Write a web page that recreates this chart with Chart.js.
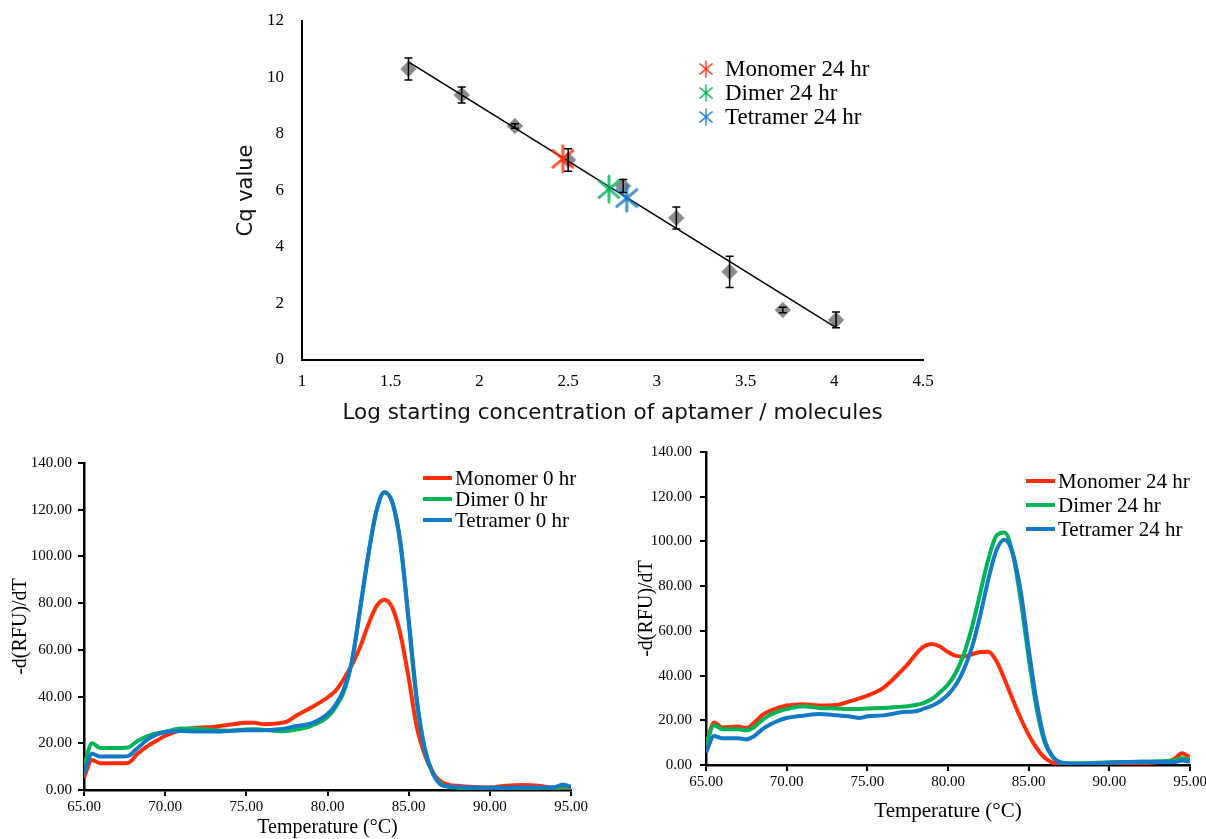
<!DOCTYPE html>
<html>
<head>
<meta charset="utf-8">
<script src="https://cdn.jsdelivr.net/npm/chart.js@4.4.1/dist/chart.umd.min.js"></script>
<style>
  body { margin: 0; background: #fff; }
  #wrap { position: relative; width: 1206px; height: 839px; }
  canvas { position: absolute; }
</style>
</head>
<body>
<div id="wrap">
  <canvas id="cqChart" width="730" height="440" style="left:220px;top:0px"></canvas>
  <canvas id="melt0Chart" width="600" height="399" style="left:0px;top:440px"></canvas>
  <canvas id="melt24Chart" width="600" height="399" style="left:606px;top:440px"></canvas>
</div>
<script>
// standard curve (log starting concentration vs Cq)
const cqLogConc = [1.6, 1.9, 2.2, 2.5, 2.81, 3.11, 3.41, 3.71, 4.01]
const cqMean = [10.3, 9.38, 8.28, 7.08, 6.16, 5.03, 3.12, 1.77, 1.42]
const cqErr = [0.39, 0.28, 0.08, 0.4, 0.23, 0.39, 0.55, 0.1, 0.28]
const fitX = [1.6, 4.01]
const fitY = [10.55, 1.15]
const sampleNames = ["Monomer 24 hr", "Dimer 24 hr", "Tetramer 24 hr"]
const sampleLogConc = [2.47, 2.73, 2.83]
const sampleCq = [7.12, 6.05, 5.73]
const cqXTicks = [1, 1.5, 2, 2.5, 3, 3.5, 4, 4.5]
const cqYTicks = [0, 2, 4, 6, 8, 10, 12]

// melt curves 0 hr
const temps0 = [65, 65.5, 66, 67, 67.7, 68.3, 69, 69.5, 70, 71, 72, 73, 74, 75, 75.5, 76, 77, 77.5, 78, 79, 80, 80.5, 81, 81.5, 82, 82.5, 83, 83.5, 84, 84.5, 85, 85.5, 86, 86.5, 87, 87.5, 88, 89, 90, 91, 92, 93, 94, 94.5, 95]
const monomer0 = [5.4, 12.8, 11.5, 11.5, 11.6, 15.5, 19.2, 21.2, 23.2, 25.7, 26.7, 27, 28, 28.8, 28.8, 28.2, 28.6, 29.3, 31.5, 35.3, 39.6, 42.5, 47.5, 53.5, 61, 70.5, 78.5, 81.5, 78, 66.5, 48, 27, 15, 7.5, 3.5, 2.2, 1.8, 1.3, 1.1, 1.8, 2.1, 1.8, 0.8, 0.4, 0]
const dimer0 = [10.4, 20, 18, 18, 18.2, 21, 23.3, 24.3, 24.9, 26.3, 26.2, 25.6, 25.4, 25.9, 26, 25.8, 25.2, 25.3, 25.8, 27.5, 31.3, 35.5, 42, 55, 77, 100, 119, 127.5, 123, 105, 72, 38, 17, 7, 2.5, 1.3, 1, 0.7, 0.5, 0.5, 0.7, 0.8, 1, 1.2, 1.2]
const tetramer0 = [7, 15.5, 14.3, 14.3, 14.5, 18, 22, 23.8, 24.8, 25.3, 25, 25, 25.3, 25.6, 25.6, 25.6, 26, 26.5, 27.3, 28.5, 32.5, 36.5, 43, 55, 77, 100, 119, 127.5, 123, 105.5, 73, 39, 17.5, 7, 2.2, 1.5, 1.3, 1.1, 1, 1, 1.1, 1.1, 1.2, 2.3, 1.4]

// melt curves 24 hr
const temps24 = [65, 65.5, 66, 67, 67.5, 68, 68.5, 69, 69.5, 70, 70.5, 71, 72, 73, 74, 74.5, 75, 76, 76.5, 77, 77.5, 78, 78.5, 79, 79.5, 80, 80.5, 81, 81.5, 82, 82.5, 83, 83.5, 84, 84.5, 85, 85.5, 86, 86.5, 87, 87.5, 88, 90, 92, 93, 94, 94.5, 95]
const monomer24 = [8.5, 19, 16.8, 17.2, 16.5, 19, 22.4, 24.3, 25.7, 26.6, 27, 27.2, 26.6, 26.8, 28.7, 29.8, 31, 34.5, 37.7, 41.3, 45, 49.5, 53, 54.1, 53, 50.5, 48.8, 48.5, 49.5, 50.5, 50.6, 46.5, 38.5, 29.5, 21, 13.5, 7.5, 3.2, 1, 0.5, 0.4, 0.4, 0.5, 0.8, 1.2, 2.5, 5.3, 3.2]
const dimer24 = [9, 17.8, 16, 16, 15.5, 17, 20.2, 22.5, 24, 25, 25.8, 26.3, 25.5, 25.3, 25, 25.1, 25.3, 25.5, 25.7, 26, 26.3, 26.8, 27.8, 29.5, 32.5, 36, 41.5, 50, 62, 77, 92, 102.5, 104, 95, 74, 48, 25, 10, 3.5, 1.2, 0.8, 0.8, 1.2, 1.5, 1.7, 2, 3, 2.2]
const tetramer24 = [5.5, 13, 12, 12, 11.5, 13, 16, 18.2, 19.8, 21, 21.6, 22, 22.8, 22.3, 21.6, 21, 21.8, 22.2, 22.8, 23.5, 23.8, 24, 25.2, 26.5, 28.5, 31.5, 36, 43, 53, 67, 83, 96, 100.8, 95, 78, 52, 28, 11, 3.5, 1, 0.6, 0.5, 1, 1.5, 1.3, 1.2, 2, 1.5]
const meltXTicks = [65, 70, 75, 80, 85, 90, 95]
const meltYTicks = [0, 20, 40, 60, 80, 100, 120, 140]

const RED = "#FF2D0A"
const GREEN = "#00B457"
const BLUE = "#1479C6"

// asterisk marker: vertical bar plus an X
function makeStar(color) {
    const c = document.createElement("canvas")
    c.width = 30
    c.height = 30
    const g = c.getContext("2d")
    g.strokeStyle = color
    g.globalAlpha = 0.8
    g.lineWidth = 3
    g.lineCap = "round"
    ;[90, 40, 140].forEach(a => {
        const r = a * Math.PI / 180
        g.beginPath()
        g.moveTo(15 - Math.cos(r) * 13, 15 - Math.sin(r) * 13)
        g.lineTo(15 + Math.cos(r) * 13, 15 + Math.sin(r) * 13)
        g.stroke()
    })
    return c
}

const toPoints = (xs, ys) => xs.map((x, i) => ({ x: x, y: ys[i] }))

// legend drawn inside the plot
const boxLegend = {
    id: "boxLegend",
    afterDraw(chart, args, opts) {
        const ctx = chart.ctx
        ctx.save()
        ctx.font = opts.font
        ctx.textBaseline = "middle"
        ctx.fillStyle = "#000"
        let y = opts.y
        chart.data.datasets.forEach(ds => {
            if (!ds.inLegend) return
            if (ds.pointStyle instanceof HTMLCanvasElement) {
                ctx.drawImage(ds.pointStyle, opts.x - 9, y - 9, 18, 18)
            } else {
                ctx.strokeStyle = ds.borderColor
                ctx.lineWidth = 4
                ctx.beginPath()
                ctx.moveTo(opts.x, y)
                ctx.lineTo(opts.x + 29, y)
                ctx.stroke()
            }
            ctx.fillText(ds.label, opts.textX, y + 1)
            y += opts.spacing
        })
        ctx.restore()
    }
}

const errorBars = {
    id: "errorBars",
    afterDatasetsDraw(chart) {
        const { ctx, scales } = chart
        chart.data.datasets.forEach(ds => {
            if (!ds.errors) return
            ctx.save()
            ctx.strokeStyle = "#000"
            ctx.lineWidth = 1.5
            ds.data.forEach((p, i) => {
                const px = scales.x.getPixelForValue(p.x)
                const top = scales.y.getPixelForValue(p.y + ds.errors[i])
                const bot = scales.y.getPixelForValue(p.y - ds.errors[i])
                ctx.beginPath()
                ctx.moveTo(px, top)
                ctx.lineTo(px, bot)
                ctx.moveTo(px - 4, top)
                ctx.lineTo(px + 4, top)
                ctx.moveTo(px - 4, bot)
                ctx.lineTo(px + 4, bot)
                ctx.stroke()
            })
            ctx.restore()
        })
    }
}

// ---------- standard curve ----------
const starColors = [RED, GREEN, BLUE]
const sampleSets = sampleNames.map((name, i) => ({
    label: name,
    inLegend: true,
    data: [{ x: sampleLogConc[i], y: sampleCq[i] }],
    pointStyle: makeStar(starColors[i]),
    pointRadius: 14,
    order: 1
}))

new Chart(document.getElementById("cqChart"), {
    type: "scatter",
    data: {
        datasets: [
            {
                label: "standards",
                data: toPoints(cqLogConc, cqMean),
                errors: cqErr,
                pointStyle: "rectRot",
                pointRadius: 8,
                backgroundColor: "rgba(125,125,125,0.9)",
                borderColor: "rgba(160,160,160,0.5)",
                borderWidth: 1,
                order: 3
            },
            {
                label: "fit",
                data: toPoints(fitX, fitY),
                showLine: true,
                borderColor: "#000",
                borderWidth: 1.5,
                pointRadius: 0,
                order: 2
            },
            ...sampleSets
        ]
    },
    options: {
        responsive: false,
        animation: false,
        layout: { padding: { top: 21, right: 27, left: 0, bottom: 0 } },
        plugins: {
            legend: { display: false },
            tooltip: { enabled: false },
            boxLegend: { x: 486, textX: 505, y: 69, spacing: 24, font: "23px 'Liberation Serif'" }
        },
        scales: {
            x: {
                type: "linear",
                min: 1,
                max: 4.5,
                afterBuildTicks: s => { s.ticks = cqXTicks.map(v => ({ value: v })) },
                afterFit: s => { s.height = 80; s.paddingLeft = 0; s.paddingRight = 0 },
                grid: { display: false, drawTicks: false },
                border: { display: true, color: "#000", width: 2 },
                ticks: {
                    color: "#000",
                    padding: 11,
                    font: { family: "Liberation Serif", size: 17 },
                    callback: v => String(v)
                },
                title: {
                    display: true,
                    text: "Log starting concentration of aptamer / molecules",
                    color: "#111",
                    font: { family: "DejaVu Sans", size: 21.5 },
                    padding: { top: 0, bottom: 14 }
                }
            },
            y: {
                min: 0,
                max: 12,
                afterBuildTicks: s => { s.ticks = cqYTicks.map(v => ({ value: v })) },
                afterFit: s => { s.width = 82; s.paddingTop = 0; s.paddingBottom = 0 },
                grid: { display: false, drawTicks: false },
                border: { display: true, color: "#000", width: 2 },
                ticks: { color: "#000", padding: 18, font: { family: "Liberation Serif", size: 17 } },
                title: {
                    display: true,
                    text: "Cq value",
                    color: "#111",
                    font: { family: "DejaVu Sans", size: 21 },
                    padding: { top: 14, bottom: 0 }
                }
            }
        }
    },
    plugins: [errorBars, boxLegend]
})

// ---------- melt curves ----------
function meltChart(id, temps, series, names, box) {
    const colors = [RED, GREEN, BLUE]
    return new Chart(document.getElementById(id), {
        type: "scatter",
        data: {
            datasets: series.map((vals, i) => ({
                label: names[i],
                inLegend: true,
                data: toPoints(temps, vals),
                showLine: true,
                borderColor: colors[i],
                borderWidth: 4,
                pointRadius: 0,
                cubicInterpolationMode: "monotone",
                order: 3 - i
            }))
        },
        options: {
            responsive: false,
            animation: false,
            layout: { padding: { top: box.top, right: box.right, left: 0, bottom: 0 } },
            plugins: {
                legend: { display: false },
                tooltip: { enabled: false },
                boxLegend: box.legend
            },
            scales: {
                x: {
                    type: "linear",
                    min: 65,
                    max: 95,
                    afterBuildTicks: s => { s.ticks = meltXTicks.map(v => ({ value: v })) },
                    afterFit: s => { s.height = box.xHeight; s.paddingLeft = 0; s.paddingRight = 0 },
                    grid: { drawOnChartArea: false, drawTicks: true, tickLength: 6, color: "#000", lineWidth: 2 },
                    border: { display: true, color: "#000", width: 2.5 },
                    ticks: {
                        color: "#000",
                        padding: 2,
                        maxRotation: 0,
                        font: { family: "Liberation Serif", size: 15 },
                        callback: v => v.toFixed(2)
                    },
                    title: {
                        display: true,
                        text: "Temperature (°C)",
                        color: "#000",
                        font: { family: "Liberation Serif", size: box.xTitleSize },
                        padding: { top: 0, bottom: box.xTitlePad }
                    }
                },
                y: {
                    min: 0,
                    max: 140,
                    afterBuildTicks: s => { s.ticks = meltYTicks.map(v => ({ value: v })) },
                    afterFit: s => { s.width = box.yWidth; s.paddingTop = 0; s.paddingBottom = 0 },
                    grid: { drawOnChartArea: false, drawTicks: true, tickLength: 6, color: "#000", lineWidth: 2 },
                    border: { display: true, color: "#000", width: 2.5 },
                    ticks: {
                        color: "#000",
                        padding: box.yTickPad,
                        font: { family: "Liberation Serif", size: 15 },
                        callback: v => v.toFixed(2)
                    },
                    title: {
                        display: true,
                        text: "-d(RFU)/dT",
                        color: "#000",
                        font: { family: "Liberation Serif", size: 20 },
                        padding: { top: box.yTitlePad, bottom: 0 }
                    }
                }
            }
        },
        plugins: [boxLegend]
    })
}

meltChart("melt0Chart", temps0, [monomer0, dimer0, tetramer0],
    ["Monomer 0 hr", "Dimer 0 hr", "Tetramer 0 hr"],
    {
        top: 23, right: 29, xHeight: 49, xTitlePad: -1, xTitleSize: 20, yWidth: 84, yTickPad: 6, yTitlePad: 9,
        legend: { x: 423, textX: 455, y: 38, spacing: 21, font: "21px 'Liberation Serif'" }
    })

meltChart("melt24Chart", temps24, [monomer24, dimer24, tetramer24],
    ["Monomer 24 hr", "Dimer 24 hr", "Tetramer 24 hr"],
    {
        top: 12, right: 16, xHeight: 74, xTitlePad: 15, xTitleSize: 21, yWidth: 100, yTickPad: 8, yTitlePad: 29,
        legend: { x: 420, textX: 452, y: 41, spacing: 24, font: "21px 'Liberation Serif'" }
    })
</script>
</body>
</html>
